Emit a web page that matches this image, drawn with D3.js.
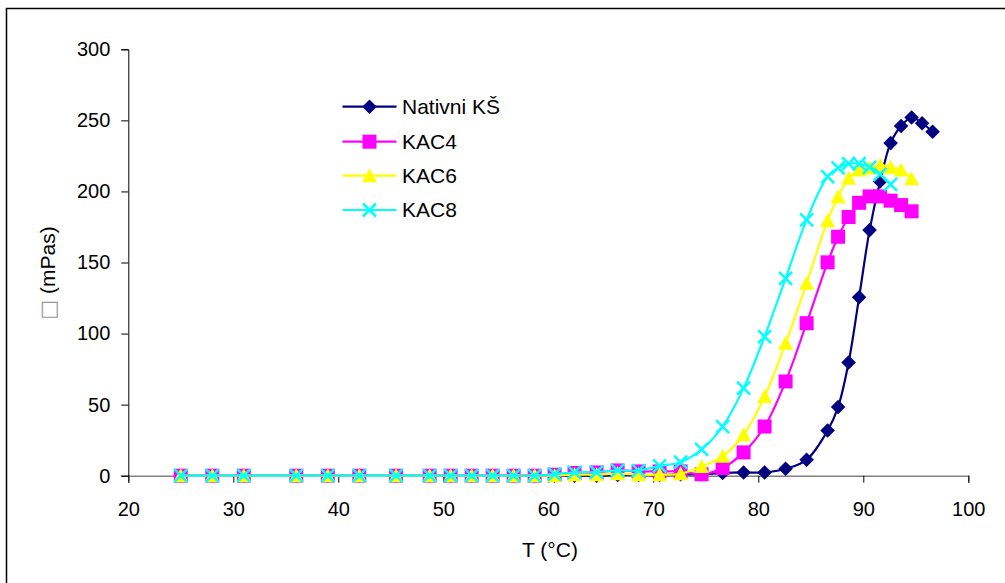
<!DOCTYPE html>
<html><head><meta charset="utf-8">
<script src="https://cdn.jsdelivr.net/npm/d3@7/dist/d3.min.js"></script>
<style>
html,body{margin:0;padding:0;background:#fff;}
svg{display:block;font-family:"Liberation Sans",Arial,sans-serif;}
</style></head>
<body>
<svg id="chart" width="1005" height="583"></svg>
<script>
// Temperatures (°C) shared by all series (index-aligned)
const temps = [25, 28, 31, 36, 39, 42, 45.5, 48.7, 50.7, 52.7, 54.7, 56.7, 58.7, 60.6, 62.5, 64.6, 66.6, 68.6, 70.6, 72.6,
  74.6, 76.6, 78.6, 80.6, 82.6, 84.6, 86.6, 87.6, 88.6, 89.6, 90.6, 91.6, 92.6, 93.6, 94.6, 95.6, 96.6];

const seriesNames = ["Nativni KŠ", "KAC4", "KAC6", "KAC8"];
const nativniKS = [0, 0, 0, 0, 0, 0, 0, 0, 0, 0, 0, 0, 0, 0, 0, 0, 0.5, 0.5, 0.5, 1,
  1, 1.9, 2.3, 2.3, 4.9, 11.2, 31.8, 48.3, 79.6, 125.5, 172.8, 207, 234, 246, 252, 248, 242];
const kac4 = [0, 0, 0, 0, 0, 0, 0, 0, 0, 0, 0, 0, 0, 0.7, 1.9, 2.3, 3.7, 3.0, 3.0, 3.0,
  1, 5.4, 16.4, 34.6, 66.3, 107.3, 150.1, 168.1, 182, 192, 196.5, 196.5, 193.5, 190.4, 186];
const kac6 = [0, 0, 0, 0, 0, 0, 0, 0, 0, 0, 0, 0, 0, 0, 0.7, 0.7, 1.4, 0.7, 0.7, 1.4,
  6.5, 13.6, 28.8, 55.7, 93.2, 135.4, 179.4, 196.2, 209.2, 215, 216.5, 218.5, 217, 215, 209];
const kac8 = [0, 0, 0, 0, 0, 0, 0, 0, 0, 0, 0, 0, 0, 1.2, 2.4, 2.5, 3.8, 3.6, 6.9, 9.5,
  18.5, 34.6, 61.6, 97.9, 138.9, 180, 210.5, 216.5, 219.5, 219.5, 217, 212, 205];

const xTicks = [20, 30, 40, 50, 60, 70, 80, 90, 100];
const yTicks = [0, 50, 100, 150, 200, 250, 300];

const colors = ["#000080", "#FF00FF", "#FFFF00", "#00FFFF"];
const markers = ["diamond", "square", "triangle", "cross"];
const seriesValues = [nativniKS, kac4, kac6, kac8];

const svg = d3.select("#chart");
const x = d3.scaleLinear().domain([20, 100]).range([128.3, 968.3]);
const y = d3.scaleLinear().domain([0, 300]).range([475.7, 49.3]);

// outer border
svg.append("rect").attr("x", 6.5).attr("y", 8.5).attr("width", 1100).attr("height", 700)
  .attr("fill", "none").attr("stroke", "#000").attr("stroke-width", 1.5);

// axes
const xAxis = svg.append("g").attr("transform", `translate(0,${y(0)})`)
  .call(d3.axisBottom(x).tickValues(xTicks).tickSize(7).tickPadding(19).tickFormat(d3.format("d")));
xAxis.select(".domain").attr("stroke", "#808080").attr("stroke-width", 1.5);
xAxis.selectAll(".tick line").attr("stroke", "#000");
xAxis.selectAll("text").attr("font-size", 20).attr("fill", "#000").attr("font-family", "Liberation Sans, Arial, sans-serif");

const yAxis = svg.append("g").attr("transform", `translate(${x(20)},0)`)
  .call(d3.axisLeft(y).tickValues(yTicks).tickSize(7).tickPadding(11).tickFormat(d3.format("d")));
yAxis.select(".domain").attr("stroke", "#000").attr("stroke-width", 1);
yAxis.selectAll(".tick line").attr("stroke", "#000");
yAxis.selectAll("text").attr("font-size", 20).attr("fill", "#000").attr("font-family", "Liberation Sans, Arial, sans-serif");

// axis titles
svg.append("text").attr("x", 550).attr("y", 557).attr("text-anchor", "middle")
  .attr("font-size", 21).attr("fill", "#000").text("T (°C)");
const yt = svg.append("text").attr("transform", "translate(55,273) rotate(-90)")
  .attr("text-anchor", "middle").attr("font-size", 21).attr("fill", "#000");
yt.append("tspan").attr("fill", "#999").attr("font-family", "DejaVu Sans").text("□");
yt.append("tspan").text(" (mPas)");

function drawMarker(g, type, color, cx, cy) {
  if (type === "diamond") {
    const r = 7.3;
    g.append("path").attr("d", `M${cx},${cy - r}L${cx + r},${cy}L${cx},${cy + r}L${cx - r},${cy}Z`).attr("fill", color);
  } else if (type === "square") {
    const r = 7;
    g.append("rect").attr("x", cx - r).attr("y", cy - r).attr("width", 2 * r).attr("height", 2 * r).attr("fill", color);
  } else if (type === "triangle") {
    const r = 7.5;
    g.append("path").attr("d", `M${cx},${cy - r}L${cx + r},${cy + r - 1}L${cx - r},${cy + r - 1}Z`).attr("fill", color);
  } else {
    const r = 6.5;
    g.append("path").attr("d", `M${cx - r},${cy - r}L${cx + r},${cy + r}M${cx - r},${cy + r}L${cx + r},${cy - r}`)
      .attr("stroke", color).attr("stroke-width", 2.5).attr("fill", "none");
  }
}

const line = d3.line().x(d => x(d[0])).y(d => y(d[1])).curve(d3.curveCatmullRom.alpha(0.5));

seriesValues.forEach((vals, si) => {
  const pts = vals.map((v, i) => [temps[i], v]);
  const g = svg.append("g");
  g.append("path").datum(pts).attr("d", line).attr("fill", "none")
    .attr("stroke", colors[si]).attr("stroke-width", 2.2);
  pts.forEach(p => drawMarker(g, markers[si], colors[si], x(p[0]), y(p[1])));
});

// legend
const legY = [106.7, 141.7, 175.7, 210];
seriesNames.forEach((name, si) => {
  const g = svg.append("g");
  g.append("line").attr("x1", 342.5).attr("x2", 396.5).attr("y1", legY[si]).attr("y2", legY[si])
    .attr("stroke", colors[si]).attr("stroke-width", 2.2);
  drawMarker(g, markers[si], colors[si], 369.5, legY[si]);
  g.append("text").attr("x", 402).attr("y", legY[si] + 7.4).attr("font-size", 21).attr("fill", "#000").text(name);
});
</script>
</body></html>
